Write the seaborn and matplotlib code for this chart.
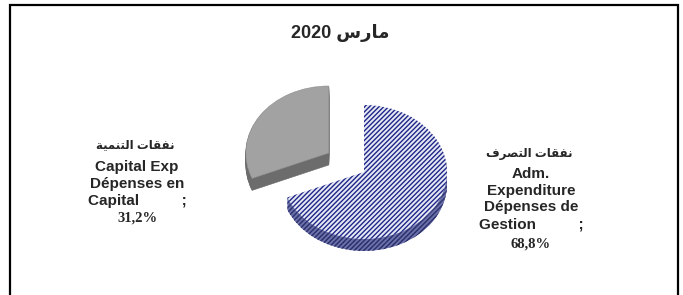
import numpy as np
import matplotlib
matplotlib.use("Agg")
import matplotlib.pyplot as plt
import seaborn as sns
from matplotlib.patches import Rectangle

# chart data
title_ar = "مارس 2020"
labels_ar = ["نفقات التصرف", "نفقات التنمية"]
labels_en = ["Adm.\nExpenditure\nDépenses de\nGestion          ;",
             "Capital Exp\nDépenses en\nCapital          ;"]
shares = [68.8, 31.2]

# presentation forms: isolated, final, initial, medial
FORMS = {
    'ا': ('\uFE8D', '\uFE8E', None, None),
    'ت': ('\uFE95', '\uFE96', '\uFE97', '\uFE98'),
    'ة': ('\uFE93', '\uFE94', None, None),
    'ر': ('\uFEAD', '\uFEAE', None, None),
    'س': ('\uFEB1', '\uFEB2', '\uFEB3', '\uFEB4'),
    'ص': ('\uFEB9', '\uFEBA', '\uFEBB', '\uFEBC'),
    'ف': ('\uFED1', '\uFED2', '\uFED3', '\uFED4'),
    'ق': ('\uFED5', '\uFED6', '\uFED7', '\uFED8'),
    'ل': ('\uFEDD', '\uFEDE', '\uFEDF', '\uFEE0'),
    'م': ('\uFEE1', '\uFEE2', '\uFEE3', '\uFEE4'),
    'ن': ('\uFEE5', '\uFEE6', '\uFEE7', '\uFEE8'),
    'ي': ('\uFEF1', '\uFEF2', '\uFEF3', '\uFEF4'),
}


def shape_word(w):
    out = []
    for i, c in enumerate(w):
        if c not in FORMS:
            out.append(c)
            continue
        prev = w[i - 1] if i > 0 else None
        nxt = w[i + 1] if i + 1 < len(w) else None
        jp = prev in FORMS and FORMS[prev][2] is not None
        jn = nxt in FORMS and FORMS[c][2] is not None
        if jp and jn:
            out.append(FORMS[c][3])
        elif jp:
            out.append(FORMS[c][1])
        elif jn:
            out.append(FORMS[c][2])
        else:
            out.append(FORMS[c][0])
    return "".join(out)


def rtl(s):
    toks = s.split(" ")[::-1]
    res = []
    for t in toks:
        if any(ch in FORMS for ch in t):
            res.append(shape_word(t)[::-1])
        else:
            res.append(t)
    return " ".join(res)


sns.set_style("white")
plt.rcParams['font.family'] = ['Liberation Sans', 'DejaVu Sans']
plt.rcParams['hatch.linewidth'] = 1.0

W, H = 683, 295
fig = plt.figure(figsize=(W / 100, H / 100), dpi=100)
ax = fig.add_axes([0, 0, 1, 1])

sy = 0.807          # squash for the tilted look
cx, cy_px = 364, 172
cy = (H - cy_px) / sy
rad = 83
depth = 12 / sy
explode = [0, 0.51 * rad]   # pie takes explode in data units here

navy = '#1f2788'
nlay = 14
for k in range(nlay + 1):
    top = (k == nlay)
    off = depth * (1 - k / nlay)
    wedges, _ = ax.pie(shares, explode=explode, startangle=90, counterclock=False,
                       center=(cx, cy - off), radius=rad, frame=True)
    b, g = wedges
    if top:
        b.set_facecolor('#e6e8f4')
        b.set_edgecolor(navy)
        b.set_hatch('///////')
        b.set_linewidth(0)
        g.set_facecolor('#a2a2a2')
        g.set_edgecolor('#909090')
        g.set_linewidth(0.4)
    else:
        b.set_facecolor('#6d73aa')
        b.set_edgecolor('#1a1f5e')
        b.set_hatch('///////')
        b.set_linewidth(0)
        g.set_facecolor('#6c6c6c')
        g.set_edgecolor('#6c6c6c')
        g.set_linewidth(0.4)

ax.set_aspect('auto')
ax.set_xlim(0, W)
ax.set_ylim(0, H / sy)
ax.axis('off')


def px(x, y):
    return x / W, 1 - y / H


fig.text(*px(340, 33), rtl(title_ar), ha='center', va='center',
         fontsize=13, fontweight='bold')

# label blocks: (center x, arabic y, english top y, percent y)
blocks = [(529, 154, 172, 244), (135, 145, 165, 218)]
for i, (x, ya, ye, yp) in enumerate(blocks):
    fig.text(*px(x, ya), rtl(labels_ar[i]), ha='center', va='center',
             fontsize=8.5, fontweight='bold')
    fig.text(*px(x + 2, ye - 5), labels_en[i], ha='center', va='top',
             fontsize=11, fontweight='bold', multialignment='center',
             linespacing=1.25)
    pct = f"{shares[i]:.1f}%".replace('.', ',')
    fig.text(*px(x + 2, yp), pct, ha='center', va='center', fontsize=10.5,
             fontweight='bold', family='Liberation Serif')

fig.patches.append(Rectangle((10 / W, -0.1), 668 / W, 1.1 - 5 / H,
                             transform=fig.transFigure, fill=False,
                             edgecolor='black', linewidth=1.6))

fig.savefig("out.png", dpi=100)
